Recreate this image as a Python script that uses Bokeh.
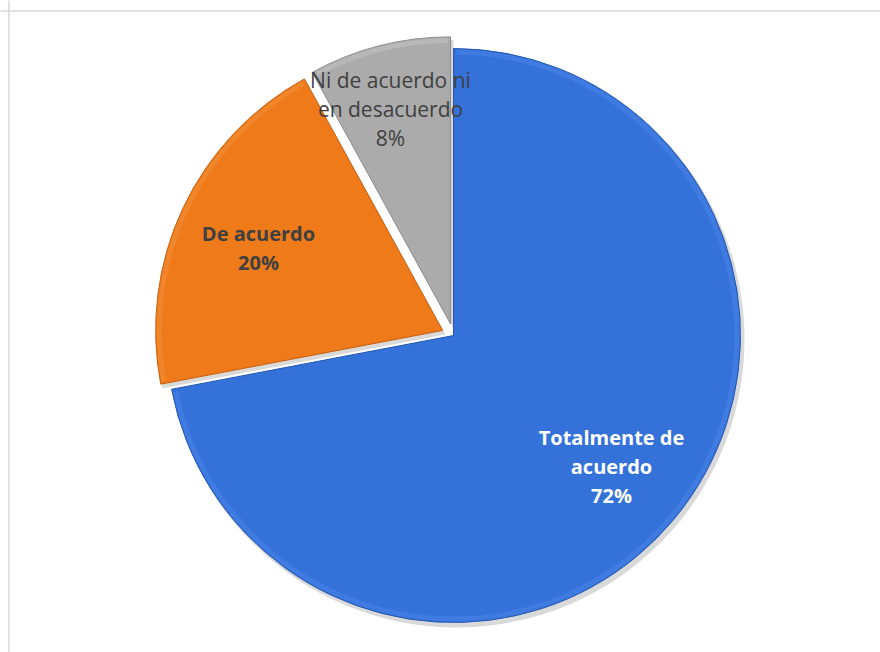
import math
from bokeh.plotting import figure
from bokeh.models import Span, Range1d
from bokeh.core.properties import value
from bokeh.embed import file_html
from bokeh.resources import INLINE

# ---- data ----
categories = ["Totalmente de acuerdo", "De acuerdo", "Ni de acuerdo ni en desacuerdo"]
percents = [72, 20, 8]
label_lines = [["Totalmente de", "acuerdo", "72%"],
               ["De acuerdo", "20%"],
               ["Ni de acuerdo ni", "en desacuerdo", "8%"]]

# ---- styles ----
fill_colors = ["#3472da", "#ee7a1a", "#ababab"]
edge_colors = ["#2457b0", "#c75f10", "#8c8c8c"]
rim_colors = ["#5b91ee", "#f7a050", "#d6d6d6"]
text_colors = ["#ffffff", "#404040", "#404040"]
text_bold = ["bold", "bold", "normal"]
text_sizes = ["20px", "20px", "21px"]
explode = [0, 12, 12]
label_pos = [(158, -131), (-195, 88), (-63, 227)]  # label centre offsets (px) from pie centre
R = 287
W, H = 880, 652
cx_screen, cy_screen = 453, 335

p = figure(width=W, height=H, output_backend="svg", toolbar_location=None,
           x_range=Range1d(-cx_screen, W - cx_screen),
           y_range=Range1d(cy_screen - H, cy_screen),
           min_border=0, match_aspect=False)
p.axis.visible = False
p.grid.visible = False
p.outline_line_color = None
p.background_fill_color = "white"

total = float(sum(percents))
cum = 0.0
geo = []
for i, v in enumerate(percents):
    f0 = cum / total
    f1 = (cum + v) / total
    cum += v
    start = math.radians(90 - 360 * f1)
    end = math.radians(90 - 360 * f0)
    mid = (start + end) / 2
    ox = explode[i] * math.cos(mid)
    oy = explode[i] * math.sin(mid)
    geo.append((start, end, ox, oy))

# shadows
for i, (s, e, ox, oy) in enumerate(geo):
    p.wedge(x=ox + 3, y=oy - 4, radius=R + 1, start_angle=s, end_angle=e,
            fill_color="#000000", fill_alpha=0.15, line_color=None)
# slices
for i, (s, e, ox, oy) in enumerate(geo):
    p.wedge(x=ox, y=oy, radius=R, start_angle=s, end_angle=e,
            fill_color=fill_colors[i], line_color=edge_colors[i], line_width=1)
    # bevel rim highlight
    p.annular_wedge(x=ox, y=oy, inner_radius=R - 6, outer_radius=R - 1,
                    start_angle=s + 0.01, end_angle=e - 0.01,
                    fill_color=rim_colors[i], fill_alpha=0.3, line_color=None)

# labels
for i, lines in enumerate(label_lines):
    lx, ly = label_pos[i]
    n = len(lines)
    for k, t in enumerate(lines):
        yy = ly + (n - 1) * 14.5 - k * 29
        p.text(x=[lx], y=[yy], text=[t], text_align="center", text_baseline="middle",
               text_font=value("Open Sans"), text_font_size=text_sizes[i],
               text_font_style=text_bold[i], text_color=text_colors[i])

# chart area border (top & left visible)
p.add_layout(Span(location=cy_screen - 10.5, dimension="width", line_color="#d9d9d9", line_width=1.5))
p.add_layout(Span(location=8.5 - cx_screen, dimension="height", line_color="#d9d9d9", line_width=1.5))

open("out.html", "w").write(file_html(p, INLINE))
